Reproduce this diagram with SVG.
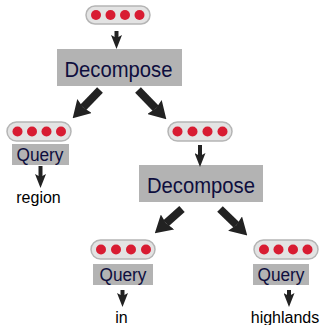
<svg xmlns="http://www.w3.org/2000/svg" width="321" height="325" viewBox="0 0 321 325">
<style>
.pill{fill:#e3e3e3;stroke:#b5b5b5;stroke-width:1.5}
.dot{fill:#d81c32}
.box{fill:#b3b3b3}
.dec{font-family:"Liberation Sans",Arial,sans-serif;font-size:22px;fill:#0e0e3e;text-anchor:middle}
.q{font-family:"Liberation Sans",Arial,sans-serif;font-size:18px;fill:#0e0e3e;text-anchor:middle}
.w{font-family:"Liberation Sans",Arial,sans-serif;font-size:16px;fill:#000;text-anchor:middle}
.sa{stroke:#222;stroke-width:4;fill:none;marker-end:url(#sh)}
.ba{stroke:#222;stroke-width:8;fill:none;marker-end:url(#bh)}
</style>
<defs>
<marker id="sh" viewBox="0 0 14 11" refX="3" refY="5.5" markerWidth="14" markerHeight="11" markerUnits="userSpaceOnUse" orient="auto"><path d="M0,0L14,5.5L0,11L3,5.5z" fill="#222"/></marker>
<marker id="bh" viewBox="0 0 17 20" refX="2" refY="10" markerWidth="17" markerHeight="20" markerUnits="userSpaceOnUse" orient="auto"><path d="M0,0L17,10L0,20L2,10z" fill="#222"/></marker>
</defs>
<g id="pill-top">
<rect class="pill" x="86" y="6" width="64" height="18" rx="9"/>
<circle class="dot" cx="96" cy="15" r="5"/><circle class="dot" cx="110.5" cy="15" r="5"/><circle class="dot" cx="125" cy="15" r="5"/><circle class="dot" cx="139.5" cy="15" r="5"/>
</g>
<g id="decompose1">
<rect class="box" x="57" y="49" width="125" height="37"/>
<text class="dec" x="118.5" y="76.5" textLength="108" lengthAdjust="spacingAndGlyphs">Decompose</text>
</g>
<g id="pill-left">
<rect class="pill" x="7" y="122" width="64" height="19" rx="9.5"/>
<circle class="dot" cx="17.5" cy="131.5" r="5"/><circle class="dot" cx="32" cy="131.5" r="5"/><circle class="dot" cx="46.5" cy="131.5" r="5"/><circle class="dot" cx="61" cy="131.5" r="5"/>
</g>
<g id="query-left">
<rect class="box" x="12" y="144" width="57" height="21"/>
<text class="q" x="40" y="160.5" textLength="47" lengthAdjust="spacingAndGlyphs">Query</text>
</g>
<g id="word-region"><text class="w" x="38.5" y="203">region</text></g>
<g id="pill-mid">
<rect class="pill" x="168" y="122" width="64" height="19" rx="9.5"/>
<circle class="dot" cx="177.5" cy="131.5" r="5"/><circle class="dot" cx="192.5" cy="131.5" r="5"/><circle class="dot" cx="207.5" cy="131.5" r="5"/><circle class="dot" cx="222.5" cy="131.5" r="5"/>
</g>
<g id="decompose2">
<rect class="box" x="139" y="165" width="124" height="37"/>
<text class="dec" x="201" y="192.5" textLength="108" lengthAdjust="spacingAndGlyphs">Decompose</text>
</g>
<g id="pill-bl">
<rect class="pill" x="91" y="240" width="64" height="19" rx="9.5"/>
<circle class="dot" cx="101" cy="249.5" r="5"/><circle class="dot" cx="116" cy="249.5" r="5"/><circle class="dot" cx="131" cy="249.5" r="5"/><circle class="dot" cx="146" cy="249.5" r="5"/>
</g>
<g id="query-bl">
<rect class="box" x="93" y="264" width="60" height="21"/>
<text class="q" x="123" y="280.5" textLength="47" lengthAdjust="spacingAndGlyphs">Query</text>
</g>
<g id="word-in"><text class="w" x="121.5" y="323">in</text></g>
<g id="pill-br">
<rect class="pill" x="254" y="240" width="64" height="19" rx="9.5"/>
<circle class="dot" cx="264" cy="249.5" r="5"/><circle class="dot" cx="278.5" cy="249.5" r="5"/><circle class="dot" cx="293" cy="249.5" r="5"/><circle class="dot" cx="307.5" cy="249.5" r="5"/>
</g>
<g id="query-br">
<rect class="box" x="253" y="264" width="56" height="21"/>
<text class="q" x="281" y="280.5" textLength="47" lengthAdjust="spacingAndGlyphs">Query</text>
</g>
<g id="word-highlands"><text class="w" x="285" y="323">highlands</text></g>
<g id="connectors">
<line class="sa" x1="116.5" y1="31" x2="116.5" y2="38"/>
<line class="ba" x1="100" y1="90" x2="83.1" y2="107.5"/>
<line class="ba" x1="138" y1="90" x2="155.9" y2="108.5"/>
<line class="sa" x1="40.5" y1="166" x2="40.5" y2="177"/>
<line class="sa" x1="200" y1="145" x2="200" y2="156"/>
<line class="ba" x1="182" y1="209" x2="166" y2="223.3"/>
<line class="ba" x1="220" y1="209" x2="236.5" y2="225"/>
<line class="sa" x1="122.5" y1="290" x2="122.5" y2="296"/>
<line class="sa" x1="289" y1="290" x2="289" y2="296"/>
</g>
</svg>
